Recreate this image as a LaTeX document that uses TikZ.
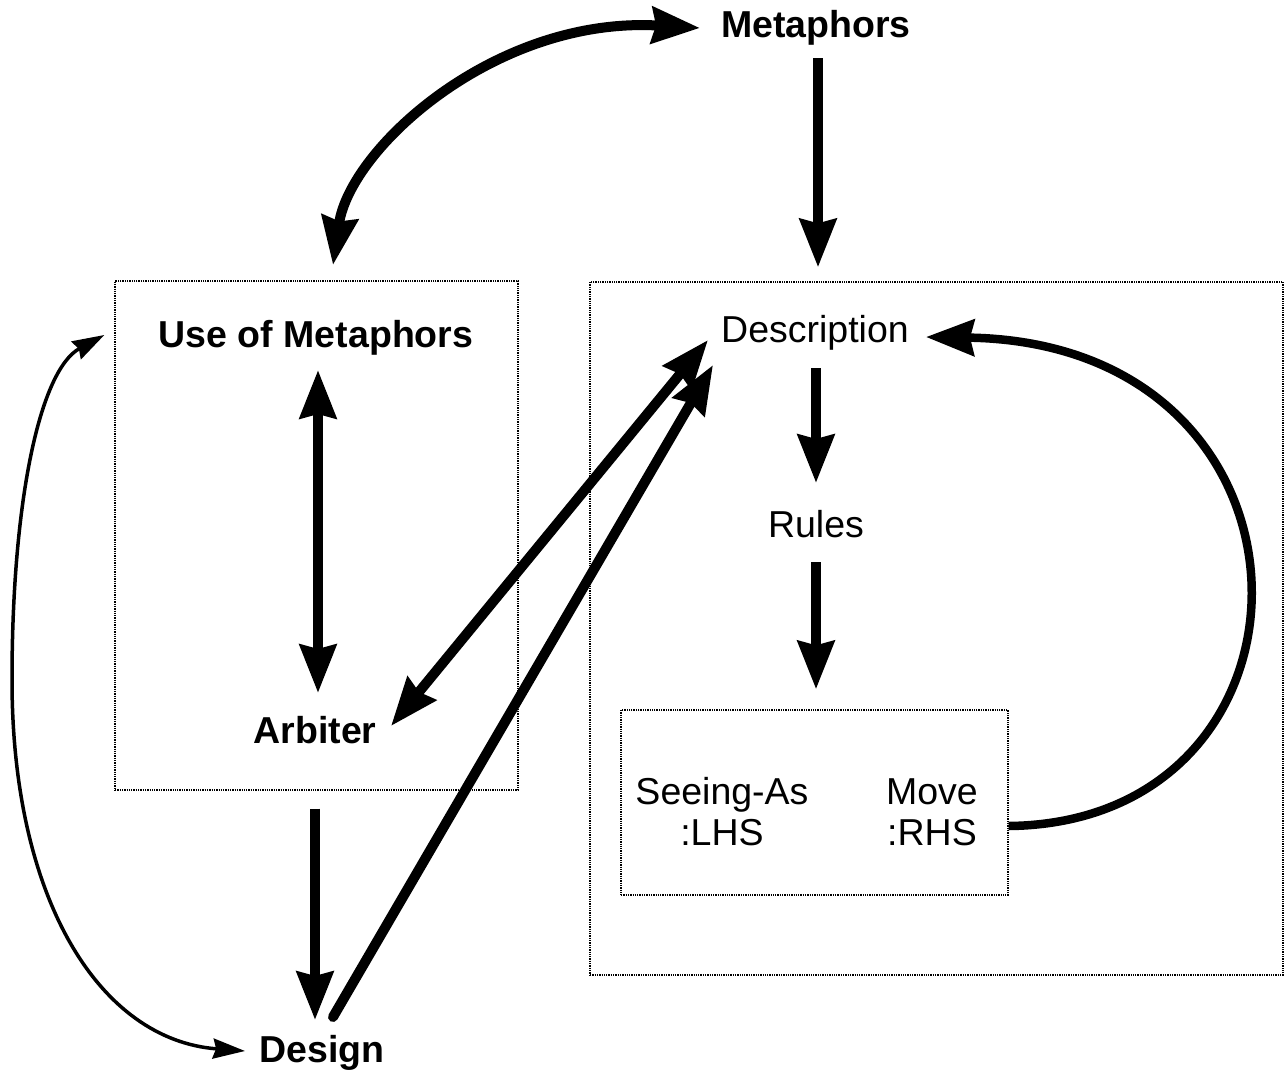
\documentclass[tikz,border=0pt]{standalone}
\usepackage{fontspec}
\setmainfont{Liberation Sans}
\usetikzlibrary{arrows.meta,calc}
\begin{document}
\begin{tikzpicture}[x=1pt,y=-1pt,
  lbl/.style={inner sep=0pt,font=\fontsize{37.5}{41}\selectfont},
  blbl/.style={lbl,font=\fontsize{37.5}{41}\selectfont\bfseries},
  frame/.style={draw,densely dotted,line width=1.3pt,inner sep=0pt},
  head/.tip={Stealth[length=48pt,width=36pt,inset=4pt]},
  small head/.tip={Stealth[length=32pt,width=20pt,inset=3pt]},
  thick arrow/.style={line width=10pt,-head},
  dbl arrow/.style={line width=10pt,head-head},
  thin arrow/.style={line width=3.5pt,small head-small head}
]
\useasboundingbox (0,0) rectangle (1288,1071);

% frames
\node[frame,minimum width=403pt,minimum height=509pt] (left) at (316.5,535.5) {};
\node[frame,minimum width=693pt,minimum height=693pt] (right) at (936.5,628.5) {};
\node[frame,minimum width=387pt,minimum height=185pt] (rule) at (814.5,802.5) {};

% labels
\node[blbl] (meta) at (816,28) {Metaphors};
\node[blbl] (use) at (316,338) {Use of Metaphors};
\node[blbl] (arb) at (315,730) {Arbiter};
\node[blbl] (design) at (322,1053) {Design};
\node[lbl] (desc) at (815,333) {Description};
\node[lbl] (rules) at (816,524) {Rules};
\node[lbl,align=center] (lhs) at (722,812) {Seeing-As\\:LHS};
\node[lbl,align=center] (rhs) at (932,812) {Move\\:RHS};

% connectors
\draw[dbl arrow] ($(use)+(17,-73)$) .. controls ($(use)+(34,-190)$) and ($(meta)+(-320,-12)$) .. ($(meta)+(-116,0)$);
\draw[thick arrow] ($(meta)+(2,30)$) -- ($(right.north)+(-118.5,-14)$);
\draw[dbl arrow] ($(use)+(2,32)$) -- ($(arb)+(3,-37)$);
\draw[thick arrow] ($(desc)+(1,35)$) -- ($(rules)+(0,-41)$);
\draw[thick arrow] ($(rules)+(0,38)$) -- ($(rule.north)+(1.5,-20)$);
\draw[line width=8.5pt,-head] ($(rule.east)+(0,23.5)$) .. controls ($(rule.east)+(330,20)$) and ($(desc)+(525,10)$) .. ($(desc)+(111,4)$);
\draw[dbl arrow] ($(arb)+(76,-4)$) -- ($(desc)+(-107,7)$);
\draw[line width=10pt,line cap=round,-head] ($(design)+(11,-36)$) -- ($(desc)+(-102,32)$);
\draw[thick arrow] ($(left.south)+(-1.5,18)$) -- ($(design)+(-7,-33)$);
\draw[thin arrow] ($(left.west)+(-10,-200.5)$) .. controls (40,370) and (12,500) .. (12,680) .. controls (12,900) and (100,1040) .. ($(design)+(-77,-2)$);
\end{tikzpicture}
\end{document}
